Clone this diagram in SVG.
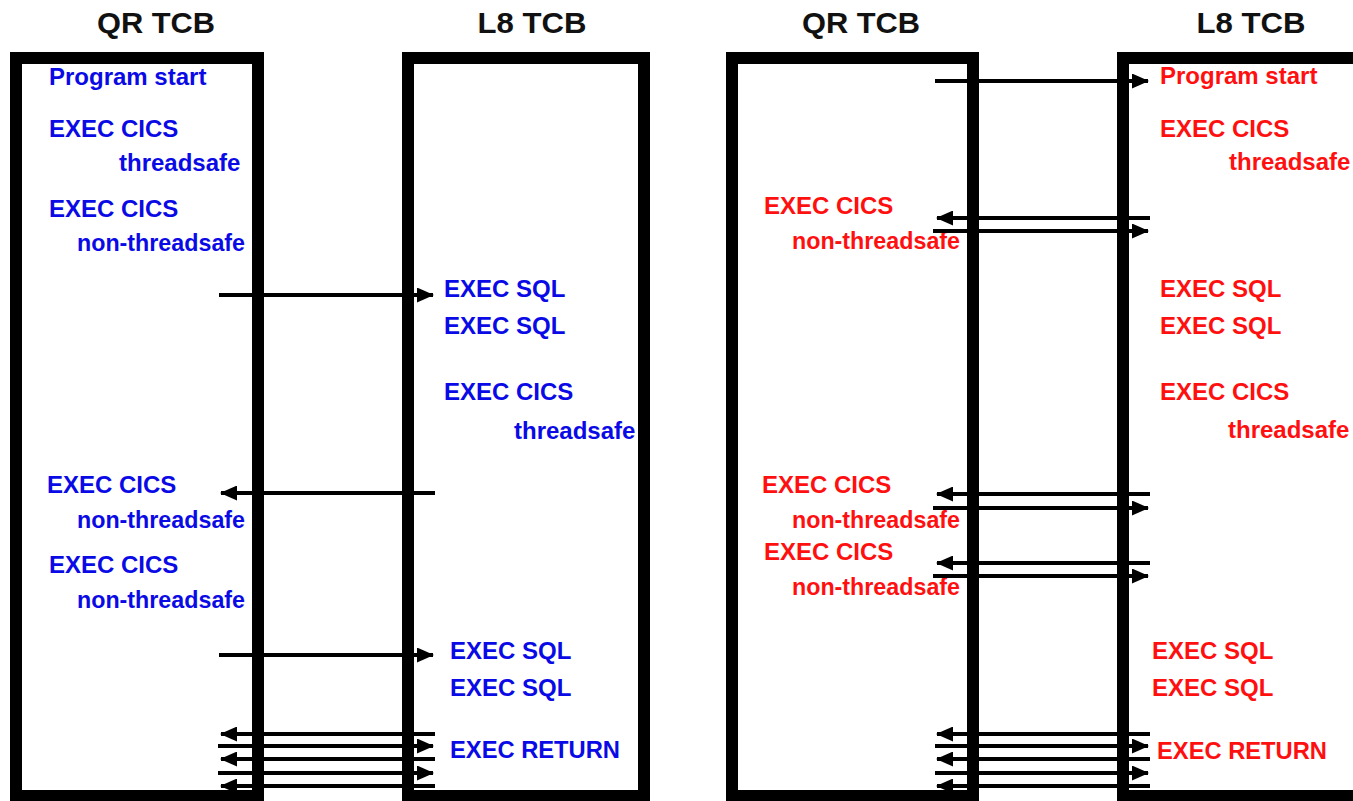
<svg xmlns="http://www.w3.org/2000/svg" width="1353" height="801" viewBox="0 0 1353 801">
<style>
.box{fill:none;stroke:#000;stroke-width:12}
.hdr{font-family:"Liberation Sans",Arial,sans-serif;font-size:30px;font-weight:bold;fill:#111;text-anchor:middle}
.t{font-family:"Liberation Sans",Arial,sans-serif;font-size:24px;font-weight:bold}
.b{fill:#0a0ae6}
.r{fill:#ff1010}
.c line{stroke:#000;stroke-width:4;marker-end:url(#ah)}
</style>
<defs>
<marker id="ah" markerUnits="userSpaceOnUse" viewBox="0 0 17 15" refX="16" refY="7.5" markerWidth="17" markerHeight="15" orient="auto">
<path d="M0,0 L17,7.5 L0,15 Z" fill="#000"/>
</marker>
</defs>
<rect width="1353" height="801" fill="#fff"/>

<g id="hdr-qr-left"><text class="hdr" x="156" y="33" textLength="118" lengthAdjust="spacingAndGlyphs">QR TCB</text></g>
<g id="hdr-l8-left"><text class="hdr" x="532" y="33" textLength="109" lengthAdjust="spacingAndGlyphs">L8 TCB</text></g>
<g id="hdr-qr-right"><text class="hdr" x="861" y="33" textLength="118" lengthAdjust="spacingAndGlyphs">QR TCB</text></g>
<g id="hdr-l8-right"><text class="hdr" x="1251" y="33" textLength="109" lengthAdjust="spacingAndGlyphs">L8 TCB</text></g>

<g id="box-qr-left"><rect class="box" x="16" y="58" width="242" height="738"/></g>
<g id="box-l8-left"><rect class="box" x="408" y="58" width="236" height="738"/></g>
<g id="box-qr-right"><rect class="box" x="732" y="58" width="241" height="738"/></g>
<g id="box-l8-right"><rect class="box" x="1123" y="58" width="260" height="738"/></g>

<g id="labels-left" class="t b">
<text x="49" y="85">Program start</text>
<text x="49" y="137">EXEC CICS</text>
<text x="119" y="171">threadsafe</text>
<text x="49" y="217">EXEC CICS</text>
<text x="77" y="251" textLength="168" lengthAdjust="spacingAndGlyphs">non-threadsafe</text>
<text x="444" y="297">EXEC SQL</text>
<text x="444" y="334">EXEC SQL</text>
<text x="444" y="400">EXEC CICS</text>
<text x="514" y="439">threadsafe</text>
<text x="47" y="493">EXEC CICS</text>
<text x="77" y="528" textLength="168" lengthAdjust="spacingAndGlyphs">non-threadsafe</text>
<text x="49" y="573">EXEC CICS</text>
<text x="77" y="608" textLength="168" lengthAdjust="spacingAndGlyphs">non-threadsafe</text>
<text x="450" y="659">EXEC SQL</text>
<text x="450" y="696">EXEC SQL</text>
<text x="450" y="758" textLength="170" lengthAdjust="spacingAndGlyphs">EXEC RETURN</text>
</g>

<g id="labels-right" class="t r">
<text x="1160" y="84">Program start</text>
<text x="1160" y="137">EXEC CICS</text>
<text x="1229" y="170">threadsafe</text>
<text x="764" y="214">EXEC CICS</text>
<text x="792" y="249" textLength="168" lengthAdjust="spacingAndGlyphs">non-threadsafe</text>
<text x="1160" y="297">EXEC SQL</text>
<text x="1160" y="334">EXEC SQL</text>
<text x="1160" y="400">EXEC CICS</text>
<text x="1228" y="438">threadsafe</text>
<text x="762" y="493">EXEC CICS</text>
<text x="792" y="528" textLength="168" lengthAdjust="spacingAndGlyphs">non-threadsafe</text>
<text x="764" y="560">EXEC CICS</text>
<text x="792" y="595" textLength="168" lengthAdjust="spacingAndGlyphs">non-threadsafe</text>
<text x="1152" y="659">EXEC SQL</text>
<text x="1152" y="696">EXEC SQL</text>
<text x="1157" y="759" textLength="170" lengthAdjust="spacingAndGlyphs">EXEC RETURN</text>
</g>

<g id="connectors" class="c">
<line x1="219" y1="295" x2="433" y2="295"/>
<line x1="435" y1="493" x2="221" y2="493"/>
<line x1="219" y1="655" x2="433" y2="655"/>
<line x1="435" y1="734" x2="221" y2="734"/>
<line x1="218" y1="746" x2="433" y2="746"/>
<line x1="435" y1="759" x2="221" y2="759"/>
<line x1="218" y1="773" x2="433" y2="773"/>
<line x1="435" y1="786" x2="221" y2="786"/>

<line x1="935" y1="81" x2="1148" y2="81"/>
<line x1="1150" y1="218" x2="937" y2="218"/>
<line x1="933" y1="231" x2="1148" y2="231"/>
<line x1="1150" y1="494" x2="937" y2="494"/>
<line x1="933" y1="508" x2="1148" y2="508"/>
<line x1="1150" y1="563" x2="937" y2="563"/>
<line x1="933" y1="576" x2="1148" y2="576"/>
<line x1="1150" y1="734" x2="937" y2="734"/>
<line x1="935" y1="746" x2="1148" y2="746"/>
<line x1="1150" y1="759" x2="937" y2="759"/>
<line x1="935" y1="773" x2="1148" y2="773"/>
<line x1="1150" y1="786" x2="937" y2="786"/>
</g>
</svg>
